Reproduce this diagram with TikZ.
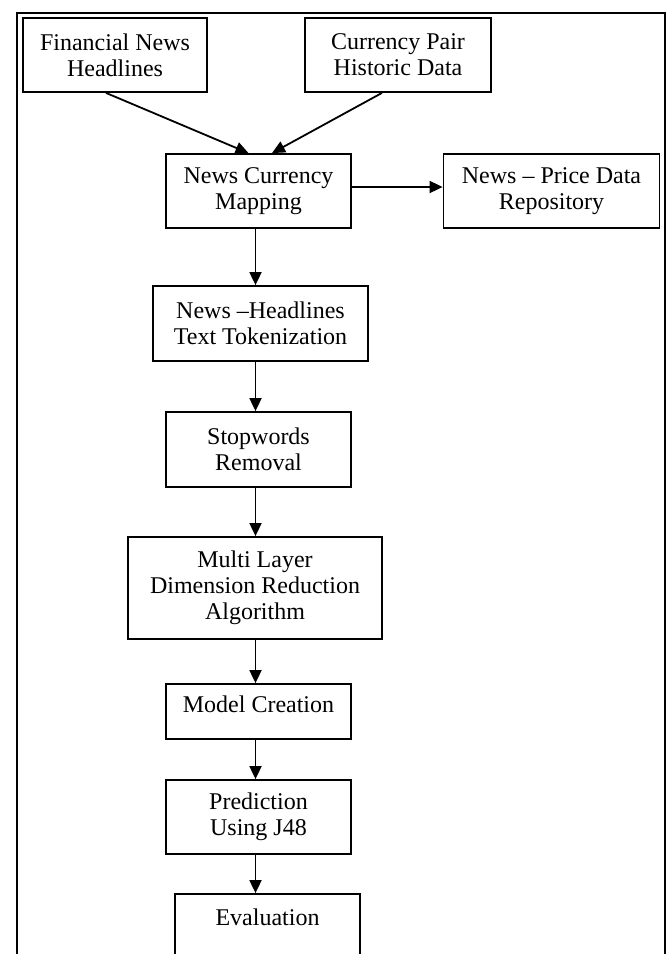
\documentclass[tikz,border=0pt]{standalone}
\usepackage{fontspec}
\setmainfont{Liberation Serif}
\usetikzlibrary{arrows.meta}
\begin{document}
\begin{tikzpicture}[x=1pt,y=-1pt,
  box/.style={draw, line width=1.8pt, align=center, inner sep=0pt,
    font=\fontsize{24}{26}\selectfont},
  arr/.style={draw, line width=1.8pt, -{Triangle[length=13pt,width=12pt]}},
  frame/.style={draw, line width=2.6pt}]
\useasboundingbox (0,0) rectangle (667,954);
\draw[frame] (17,1000) -- (17,13) -- (665,13) -- (665,1000);

\node[box, minimum width=184, minimum height=74] (fin) at (115,55) {Financial News\\Headlines};
\node[box, minimum width=186, minimum height=74] (cur) at (398,55) {Currency Pair\\Historic Data};
\node[box, minimum width=185, minimum height=74] (map) at (258.5,191) {News Currency\\Mapping};
\node[box, minimum width=216, minimum height=74] (rep) at (551.5,191) {News -- Price Data\\Repository};
\node[box, minimum width=215, minimum height=75] (tok) at (260.5,323.5) {News --Headlines\\Text Tokenization};
\node[box, minimum width=185, minimum height=75] (stp) at (258.5,449.5) {Stopwords\\Removal};
\node[box, minimum width=254, minimum height=102] (mld) at (255,588) {Multi Layer\\Dimension Reduction\\Algorithm};
\node[box, minimum width=185, minimum height=55] (mod) at (258.5,711.5) {\raisebox{7pt}[\height][\depth]{Model Creation}};
\node[box, minimum width=185, minimum height=74] (pre) at (258.5,817) {Prediction\\Using J48};
\node[box, minimum width=185, minimum height=110] (eva) at (267.5,949) {\raisebox{32pt}[\height][\depth]{Evaluation}};

\coordinate (sp) at (255.5,0);

\draw[arr] ([xshift=-9pt]fin.south) -- ([xshift=-10pt]map.north);
\draw[arr] ([xshift=-16pt]cur.south) -- ([xshift=13.5pt]map.north);
\draw[arr] ([yshift=4pt]map.east) -- ([yshift=4pt]rep.west);
\draw[arr] (sp |- map.south) -- (sp |- tok.north);
\draw[arr] (sp |- tok.south) -- (sp |- stp.north);
\draw[arr] (sp |- stp.south) -- (sp |- mld.north);
\draw[arr] (sp |- mld.south) -- (sp |- mod.north);
\draw[arr] (sp |- mod.south) -- (sp |- pre.north);
\draw[arr] (sp |- pre.south) -- (sp |- eva.north);
\end{tikzpicture}
\end{document}
